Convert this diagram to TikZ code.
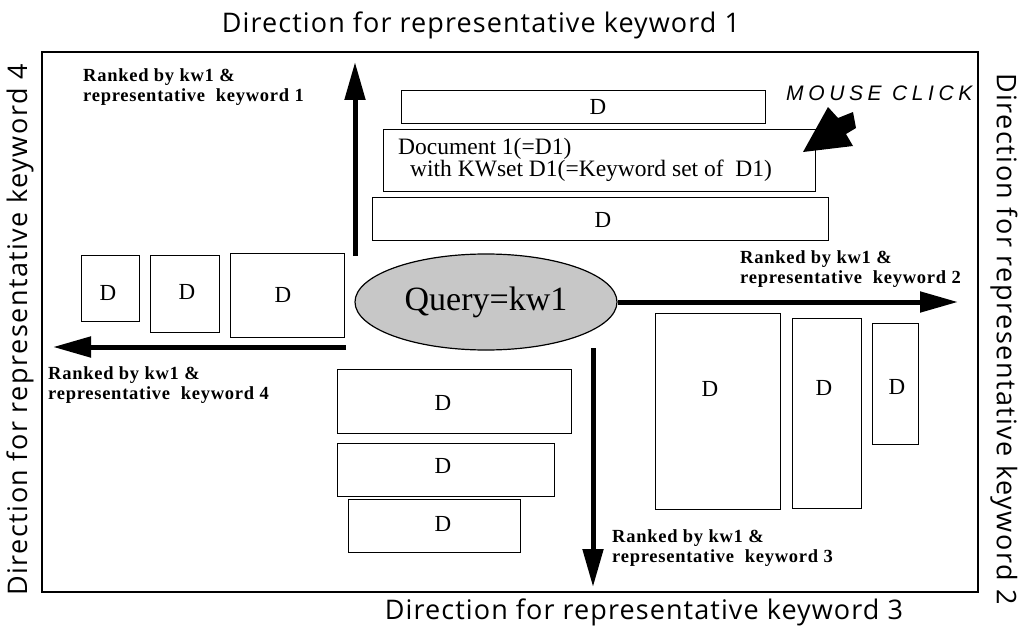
\documentclass[tikz,border=0pt]{standalone}
\usepackage{fontspec}
\setmainfont{Liberation Serif}
\newfontfamily\dirfont{Open Sans}[LetterSpace=4.0]
\newfontfamily\sidefont{Open Sans}[LetterSpace=5.5]
\newfontfamily\rankfont{Liberation Serif}[LetterSpace=4.0]
\newfontfamily\clickfont{Liberation Sans}[LetterSpace=22.0]
\usetikzlibrary{arrows.meta,shapes.geometric}
\begin{document}
\begin{tikzpicture}[x=1pt,y=-1pt,
  docbox/.style={draw, line width=1.3pt, inner sep=0pt, anchor=north west},
  dtext/.style={inner sep=0pt, font=\fontsize{23}{26}\selectfont},
  dirtext/.style={inner sep=0pt, font=\dirfont\fontsize{27}{30}\selectfont},
  sidetext/.style={inner sep=0pt, font=\sidefont\fontsize{27}{30}\selectfont},
  ranklabel/.style={inner sep=0pt, anchor=west, align=left,
    font=\rankfont\bfseries\fontsize{18.5}{20.5}\selectfont},
  bigarrow/.style={line width=5pt, -{Triangle[length=38pt,width=20pt]}}]

\useasboundingbox (0,0) rectangle (1026,634);

% outer frame
\draw[line width=1.2pt] (42,52) rectangle (978,592);

% direction captions
\node[dirtext] (dir1) at (481,25) {Direction for representative keyword 1};
\node[dirtext] (dir3) at (644,612) {Direction for representative keyword 3};
\node[sidetext, rotate=90] (dir4) at (20,330) {Direction for representative keyword 4};
\node[sidetext, rotate=-90] (dir2) at (1004,339) {Direction for representative keyword 2};

% query
\node[ellipse, draw, line width=1.2pt, fill=black!22, inner sep=0pt,
      minimum width=262pt, minimum height=96pt,
      font=\fontsize{34}{38}\selectfont] (q) at (486,302) {Query=kw1};

% documents ranked upwards
\node[docbox, minimum width=364pt, minimum height=33pt] (u1) at (401,90) {};
\node[dtext] (u1d) at (598,107) {D};
\node[docbox, minimum width=432pt, minimum height=62pt] (u2) at (383,129) {};
\node[dtext, anchor=west, align=left, font=\fontsize{23.5}{22}\selectfont] (u2d) at (398,160)
  {Document 1(=D1)\\\hspace*{12pt}with KWset D1(=Keyword set of\ \ D1)};
\node[docbox, minimum width=456pt, minimum height=43pt] (u3) at (372,197) {};
\node[dtext] (u3d) at (603,220) {D};

% documents ranked to the left
\node[docbox, minimum width=58pt, minimum height=66pt] (l1) at (81,255) {};
\node[dtext] (l1d) at (108,293) {D};
\node[docbox, minimum width=69pt, minimum height=77pt] (l2) at (150,255) {};
\node[dtext] (l2d) at (187,292) {D};
\node[docbox, minimum width=114pt, minimum height=84pt] (l3) at (230,253) {};
\node[dtext] (l3d) at (283,295) {D};

% documents ranked to the right
\node[docbox, minimum width=125pt, minimum height=196pt] (r1) at (655,313) {};
\node[dtext] (r1d) at (710,389) {D};
\node[docbox, minimum width=69pt, minimum height=190pt] (r2) at (792,318) {};
\node[dtext] (r2d) at (824,388) {D};
\node[docbox, minimum width=46pt, minimum height=121pt] (r3) at (872,323) {};
\node[dtext] (r3d) at (897,387) {D};

% documents ranked downwards
\node[docbox, minimum width=234pt, minimum height=64pt] (d1) at (337,369) {};
\node[dtext] (d1d) at (443,403) {D};
\node[docbox, minimum width=217pt, minimum height=53pt] (d2) at (337,443) {};
\node[dtext] (d2d) at (443,466) {D};
\node[docbox, minimum width=172pt, minimum height=53pt] (d3) at (348,499) {};
\node[dtext] (d3d) at (443,524) {D};

% ranking directions
\coordinate (upS) at (355,256);
\coordinate (upE) at (355,62);
\coordinate (leftS) at (346,347);
\coordinate (leftE) at (53,347);
\coordinate (rightE) at (958,302);
\coordinate (downS) at (593,348);
\coordinate (downE) at (593,587);
\draw[bigarrow] (upS) -- (upE);
\draw[bigarrow] (leftS) -- (leftE);
\draw[bigarrow] (q.east) -- (rightE);
\draw[bigarrow] (downS) -- (downE);

\node[ranklabel] (k1) at (83,87) {Ranked by kw1 \&\\representative\ \ keyword 1};
\node[ranklabel] (k2) at (740,269) {Ranked by kw1 \&\\representative\ \ keyword 2};
\node[ranklabel] (k3) at (612,548) {Ranked by kw1 \&\\representative\ \ keyword 3};
\node[ranklabel] (k4) at (48,385) {Ranked by kw1 \&\\representative\ \ keyword 4};

% mouse click
\node[inner sep=0pt, anchor=west, font=\clickfont\itshape\fontsize{21}{24}\selectfont]
  (click) at (786,93) {MOUSE CLICK};
\fill (803,152) -- (828,107) -- (838,118) -- (853,112) -- (856,128)
  -- (846,134) -- (853,146) -- cycle;

\end{tikzpicture}
\end{document}
